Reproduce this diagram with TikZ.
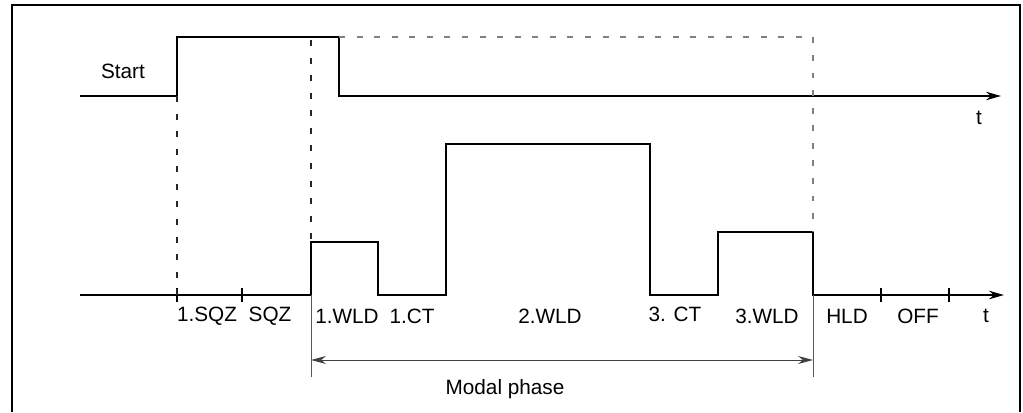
\documentclass[tikz,border=0pt]{standalone}
\usepackage{fontspec}
\setmainfont{Liberation Sans}
\usetikzlibrary{arrows.meta}
\tikzset{
  sigline/.style  = {line width=1.1pt,line join=miter},
  sigarr/.style   = {sigline,-{Stealth[length=3mm,width=1.7mm]}},
  dimarr/.style   = {{Stealth[length=3mm,width=1.6mm]}-{Stealth[length=3mm,width=1.6mm]},line width=0.55pt,black!75},
  guide/.style    = {dash pattern=on 3.4pt off 6.6pt,line width=0.6pt},
  extline/.style  = {line width=0.55pt,black!65},
  lbl/.style      = {font=\fontsize{11.8}{14}\selectfont,inner sep=0pt}
}

\begin{document}
\begin{tikzpicture}[x=0.02cm,y=-0.02cm]
  \useasboundingbox (0,0) rectangle (1023,412);
  \draw[line width=1.1pt] (12,412) |- (1020,5) -- (1020,412);

  % start signal
  \draw[sigarr] (80,96) -| (177,37) -| (339,96) -- (1001,96);
  \node[lbl] (start) at (123,71) {Start};
  \node[lbl] (t1) at (979,118) {t};

  % current / phase signal
  \draw[sigarr] (80,295) -| (311,242) -| (378,295) -| (446,144)
    -| (650,295) -| (718,232) -| (813,295) -- (1004,295);
  \foreach \x in {177,242,881,949}
    \draw[line width=0.9pt] (\x,288) -- (\x,302);

  % guides
  \draw[guide,black!85] (177,96) -- (177,295);
  \draw[guide,black!85] (311,40) -- (311,242);
  \draw[guide,gray] (339,37) -| (813,232);
  \draw[extline] (311,295) -- (311,377);
  \draw[extline] (813,295) -- (813,377);

  \node[lbl] (sqz1) at (207,316) {1.SQZ};
  \node[lbl] (sqz)  at (270,316) {SQZ};
  \node[lbl] (wld1) at (347,316) {1.WLD};
  \node[lbl] (ct1)  at (412,316) {1.CT};
  \node[lbl] (wld2) at (550,316) {2.WLD};
  \node[lbl] (ct3)  at (675,314) {3. CT};
  \node[lbl] (wld3) at (767,316) {3.WLD};
  \node[lbl] (hld)  at (847,316) {HLD};
  \node[lbl] (off)  at (918,316) {OFF};
  \node[lbl] (t2)   at (986,316) {t};

  \coordinate (mbeg) at (311,360);
  \coordinate (mend) at (813,360);
  \draw[dimarr] (mbeg) -- (mend);
  \node[lbl] (modal) at (505,389) {Modal phase};
\end{tikzpicture}
\end{document}
